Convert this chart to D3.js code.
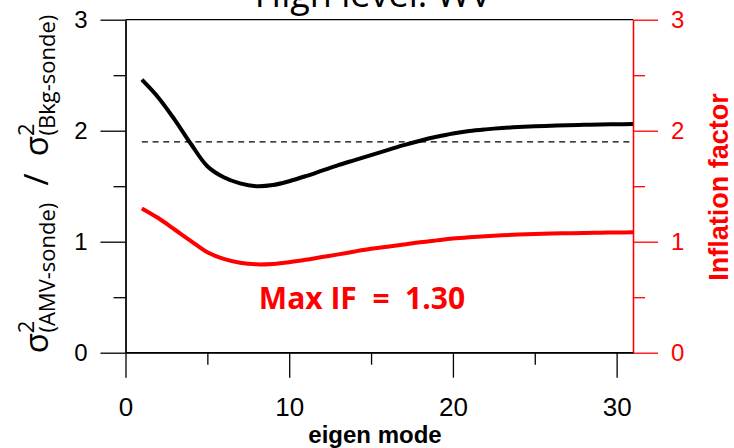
<!DOCTYPE html>
<html>
<head>
<meta charset="utf-8">
<script src="https://cdn.jsdelivr.net/npm/d3@7"></script>
<style>
  body { margin: 0; background: #fff; }
  svg { display: block; }
</style>
</head>
<body>
<svg id="chart" width="734" height="448"></svg>
<script>
// Eigen mode index
const modes = [1, 2, 3, 4, 5, 6, 7, 8, 9, 10, 11, 12, 13, 14, 15, 16,
               17, 18, 19, 20, 21, 22, 23, 24, 25, 26, 27, 28, 29, 30, 31];
// Variance ratio sigma^2(AMV-sonde) / sigma^2(Bkg-sonde)
const varianceRatio = [2.46, 2.30, 2.10, 1.88, 1.68, 1.58, 1.525, 1.50, 1.51, 1.545,
                       1.59, 1.64, 1.69, 1.735, 1.78, 1.825, 1.87, 1.91, 1.945, 1.975,
                       1.997, 2.012, 2.024, 2.033, 2.04, 2.045, 2.05, 2.053, 2.056, 2.058, 2.06];
// Inflation factor
const inflation = [1.30, 1.213, 1.11, 1.006, 0.905, 0.845, 0.81, 0.796, 0.80, 0.815,
                   0.837, 0.862, 0.886, 0.912, 0.936, 0.955, 0.975, 0.995, 1.012, 1.028,
                   1.04, 1.05, 1.058, 1.064, 1.069, 1.073, 1.076, 1.079, 1.081, 1.083, 1.085];
// Reference level of the variance ratio
const refLevel = 1.9;
const maxIF = 1.30;

const xMajor = [0, 10, 20, 30];
const xMinor = [5, 15, 25];
const yMajor = [0, 1, 2, 3];
const yMinor = [0.5, 1.5, 2.5];

const svg = d3.select("#chart");
const x = d3.scaleLinear().domain([0, 31]).range([125.5, 633]);
const yL = d3.scaleLinear().domain([0, 3]).range([352.7, 19.7]);
const yR = d3.scaleLinear().domain([0, 3]).range([352.7, 19.7]);

const tickFont = "'Liberation Sans', Arial, sans-serif";
const labelFont = "'Open Sans', 'Noto Sans', sans-serif";
const RED = "#ff0000";

// Title (partly above the view)
svg.append("text")
  .attr("x", 373).attr("y", 7)
  .attr("text-anchor", "middle")
  .attr("font-family", labelFont)
  .attr("font-size", 36)
  .attr("fill", "#000")
  .text("High level: WV");

// Top frame line
svg.append("line")
  .attr("x1", x(0)).attr("x2", x(31))
  .attr("y1", yL(3)).attr("y2", yL(3))
  .attr("stroke", "#000").attr("stroke-width", 1.3);

function styleAxis(g, color) {
  g.select(".domain").attr("stroke", color).attr("stroke-width", 1.3);
  g.selectAll(".tick line").attr("stroke", color).attr("stroke-width", 1.3);
}

// Left axis
const gL = svg.append("g").attr("transform", `translate(${x(0)},0)`);
gL.call(d3.axisLeft(yL).tickValues(yMajor).tickSize(25).tickSizeOuter(0).tickPadding(13).tickFormat(d3.format("d")));
styleAxis(gL, "#000");
gL.selectAll(".tick text").attr("font-family", tickFont).attr("font-size", 24).attr("fill", "#000");
const gLm = svg.append("g").attr("transform", `translate(${x(0)},0)`);
gLm.call(d3.axisLeft(yL).tickValues(yMinor).tickSize(12).tickSizeOuter(0).tickFormat(""));
styleAxis(gLm, "#000");

// Right axis (inflation factor)
const gR = svg.append("g").attr("transform", `translate(${x(31)},0)`);
gR.call(d3.axisRight(yR).tickValues(yMajor).tickSize(25).tickSizeOuter(0).tickPadding(13).tickFormat(d3.format("d")));
styleAxis(gR, RED);
gR.selectAll(".tick text").attr("font-family", tickFont).attr("font-size", 24).attr("fill", RED);
const gRm = svg.append("g").attr("transform", `translate(${x(31)},0)`);
gRm.call(d3.axisRight(yR).tickValues(yMinor).tickSize(12).tickSizeOuter(0).tickFormat(""));
styleAxis(gRm, RED);

// Bottom axis
const gB = svg.append("g").attr("transform", `translate(0,${yL(0)})`);
gB.call(d3.axisBottom(x).tickValues(xMajor).tickSize(25).tickSizeOuter(0).tickPadding(20).tickFormat(d3.format("d")));
styleAxis(gB, "#000");
gB.selectAll(".tick text").attr("font-family", tickFont).attr("font-size", 26).attr("fill", "#000");
const gBm = svg.append("g").attr("transform", `translate(0,${yL(0)})`);
gBm.call(d3.axisBottom(x).tickValues(xMinor).tickSize(12).tickSizeOuter(0).tickFormat(""));
styleAxis(gBm, "#000");
gB.select(".domain").attr("d", `M${x(0)},0H${x(31)}`);

// Reference dashed line
svg.append("line")
  .attr("x1", x(modes[0])).attr("x2", x(modes[modes.length - 1]))
  .attr("y1", yL(refLevel)).attr("y2", yL(refLevel))
  .attr("stroke", "#000").attr("stroke-width", 1.3)
  .attr("stroke-dasharray", "6,4.7");

const lineL = d3.line().x((d, i) => x(modes[i])).y(d => yL(d)).curve(d3.curveCatmullRom.alpha(0.5));
const lineR = d3.line().x((d, i) => x(modes[i])).y(d => yR(d)).curve(d3.curveCatmullRom.alpha(0.5));

svg.append("path").datum(varianceRatio)
  .attr("d", lineL).attr("fill", "none")
  .attr("stroke", "#000").attr("stroke-width", 4).attr("stroke-linejoin", "round");
svg.append("path").datum(inflation)
  .attr("d", lineR).attr("fill", "none")
  .attr("stroke", RED).attr("stroke-width", 4).attr("stroke-linejoin", "round");

// Annotation
svg.append("text")
  .attr("x", 362).attr("y", 309)
  .attr("text-anchor", "middle")
  .attr("font-family", labelFont)
  .attr("font-weight", "bold")
  .attr("font-size", 30)
  .attr("fill", RED)
  .style("white-space", "pre")
  .text(`Max IF  =  ${maxIF.toFixed(2)}`);

// X axis title
svg.append("text")
  .attr("x", 375).attr("y", 443)
  .attr("text-anchor", "middle")
  .attr("font-family", tickFont)
  .attr("font-weight", "bold")
  .attr("font-size", 24)
  .attr("fill", "#000")
  .text("eigen mode");

// Left axis title: sigma^2(AMV-sonde) / sigma^2(Bkg-sonde)
const yt = svg.append("text")
  .attr("transform", "translate(48,184) rotate(-90)")
  .attr("text-anchor", "middle")
  .attr("font-family", labelFont)
  .attr("font-size", 33)
  .attr("fill", "#000")
  .style("white-space", "pre");
yt.append("tspan").text("σ");
yt.append("tspan").attr("font-size", 22).attr("dy", -14).text("2");
yt.append("tspan").attr("font-size", 22).attr("dy", 21).attr("dx", -12).text("(AMV-sonde)");
yt.append("tspan").attr("dy", -7).text("  /  σ");
yt.append("tspan").attr("font-size", 22).attr("dy", -14).text("2");
yt.append("tspan").attr("font-size", 22).attr("dy", 21).attr("dx", -12).text("(Bkg-sonde)");

// Right axis title
svg.append("text")
  .attr("transform", "translate(728,187) rotate(-90)")
  .attr("text-anchor", "middle")
  .attr("font-family", tickFont)
  .attr("font-weight", "bold")
  .attr("font-size", 27)
  .attr("fill", RED)
  .text("Inflation factor");
</script>
</body>
</html>
